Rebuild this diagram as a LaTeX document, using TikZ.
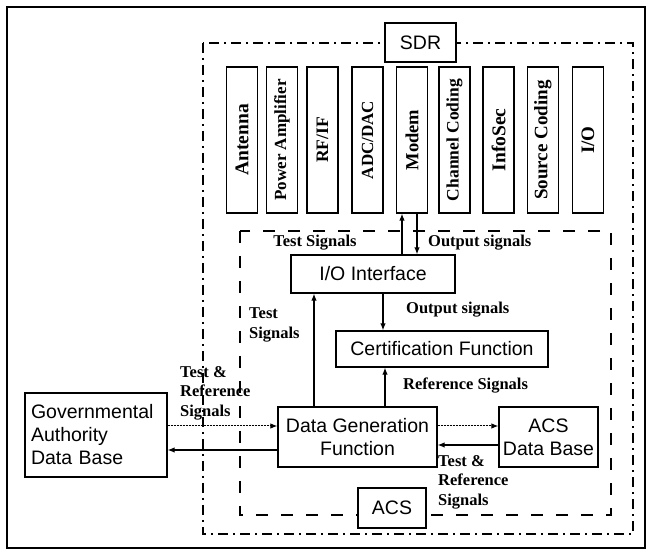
\documentclass[tikz,border=0pt]{standalone}
\usepackage{fontspec}
\setmainfont{Liberation Serif}
\newfontfamily\boxfont{Liberation Sans}
\usetikzlibrary{arrows.meta}
\newcommand{\vfs}[1]{\fontsize{#1}{#1}\selectfont}
\begin{document}
\begin{tikzpicture}[x=1pt,y=-1pt,
  box/.style={draw,line width=1.3pt,fill=white,inner sep=0pt,align=center,
    font=\boxfont\fontsize{19.5}{23}\selectfont},
  vbox/.style={draw,line width=1.2pt,inner sep=0pt,rotate=90,minimum width=146pt,
    minimum height=31pt,font=\bfseries},
  lbl/.style={inner sep=0pt,align=left,font=\bfseries\fontsize{16.5}{19.5}\selectfont},
  arr/.style={line width=1.2pt,-{Latex[length=7pt,width=5.5pt]}},
  darr/.style={arr,line width=1pt,dash pattern=on 2pt off 1pt},
  sdrline/.style={line width=2.2pt,dash pattern=on 10pt off 5pt on 2pt off 5pt},
  acsline/.style={line width=2.4pt,dash pattern=on 12pt off 13pt}]
\useasboundingbox (0,0) rectangle (649,553);
% frames
\draw[line width=1.5pt] (7,7) rectangle (645,548);
\draw[sdrline] (203,43) rectangle (633,534);
\draw[acsline] (240,231) rectangle (611,515);
% SDR components
\node[box,minimum width=71pt,minimum height=39pt] (sdr) at (420.5,42.5) {SDR};
\node[vbox] (ant) at (242,140) {\vfs{19.5}Antenna};
\node[vbox] (pa) at (282,140) {\vfs{17}Power Amplifier};
\node[vbox] (rf) at (322.5,140) {\vfs{17.5}RF/IF};
\node[vbox] (adc) at (367.5,140) {\vfs{17}ADC/DAC};
\node[vbox] (modem) at (412,140) {\vfs{18.5}Modem};
\node[vbox] (cc) at (454.5,140) {\vfs{17.5}Channel Coding};
\node[vbox] (isec) at (498.5,140) {\vfs{19.5}InfoSec};
\node[vbox] (sc) at (543,140) {\vfs{19}Source Coding};
\node[vbox] (iob) at (588,140) {\vfs{19}I/O};
% ACS components
\node[box,minimum width=164pt,minimum height=38pt] (io) at (373,274) {I/O Interface};
\node[box,minimum width=212pt,minimum height=36pt] (cert) at (442,349) {Certification Function};
\node[box,minimum width=159pt,minimum height=60pt] (dg) at (357.5,437) {Data Generation\\Function};
\node[box,minimum width=99pt,minimum height=60pt] (acsdb) at (548.5,437) {ACS\\Data Base};
\node[box,minimum width=142pt,minimum height=84pt,align=left,text width=130pt] (gov) at (96,435) {Governmental\\Authority\\Data Base};
\node[box,minimum width=68pt,minimum height=40pt] (acs) at (392,508) {ACS};
% helper coordinates
\coordinate (xa) at (402,0);
\coordinate (xb) at (417,0);
\coordinate (xc) at (314,0);
\coordinate (xd) at (383,0);
\coordinate (xe) at (385,0);
\coordinate (ya) at (0,426);
\coordinate (yb) at (0,450);
\coordinate (yc) at (0,445);
% connectors
\draw[arr] (io.north -| xa) -- (modem.west -| xa);
\draw[arr] (modem.west -| xb) -- (io.north -| xb);
\draw[arr] (io.south -| xd) -- (cert.north -| xd);
\draw[arr] (dg.north -| xc) -- (io.south -| xc);
\draw[arr] (dg.north -| xe) -- (cert.south -| xe);
\draw[darr] (gov.east |- ya) -- (dg.west |- ya);
\draw[arr] (dg.west |- yb) -- (gov.east |- yb);
\draw[darr] (dg.east |- ya) -- (acsdb.west |- ya);
\draw[arr] (acsdb.west |- yc) -- (dg.east |- yc);
% labels
\node[lbl] (l1) at (315,243) {Test Signals};
\node[lbl,anchor=west] (l2) at (428,243) {Output signals};
\node[lbl,anchor=west] (l3) at (406,310) {Output signals};
\node[lbl,anchor=west] (l4) at (249,325) {Test\\Signals};
\node[lbl,anchor=west] (l5) at (403,386) {Reference Signals};
\node[lbl,anchor=west] (l6) at (180,393) {Test \&\\Reference\\Signals};
\node[lbl,anchor=west] (l7) at (438,482) {Test \&\\Reference\\Signals};
\end{tikzpicture}
\end{document}
